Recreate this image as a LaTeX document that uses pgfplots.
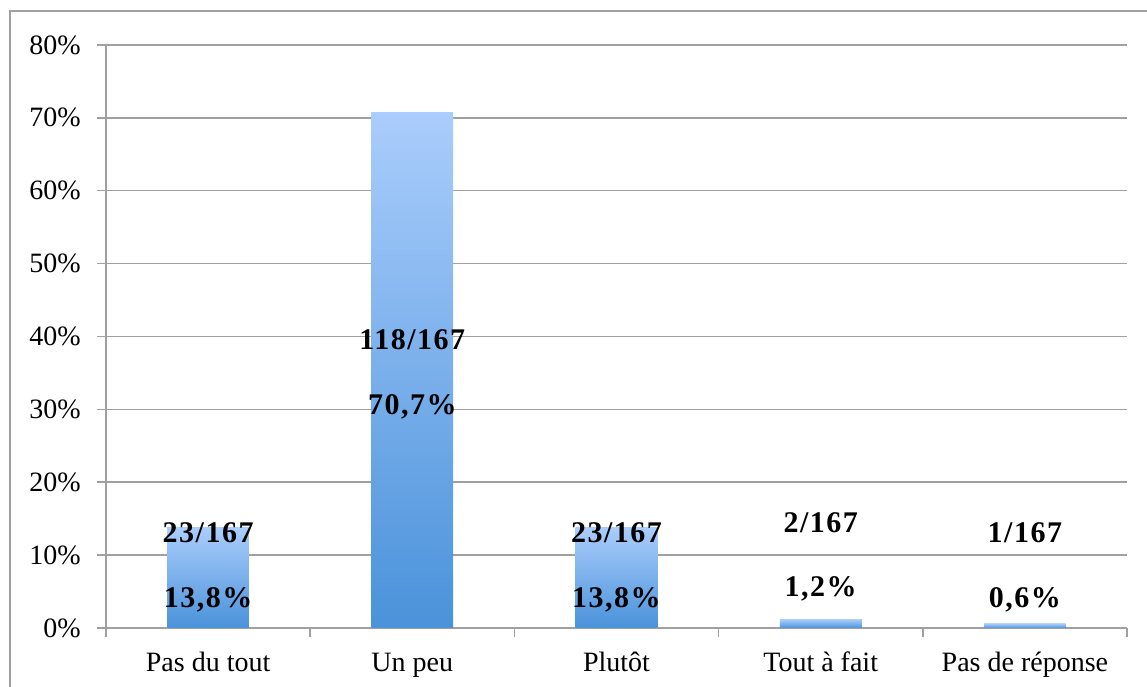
\documentclass[border=0pt]{standalone}
\usepackage{fontspec}
\setmainfont{Liberation Serif}
\usepackage{pgfplots}
\pgfplotsset{compat=1.18}
\definecolor{gridgray}{HTML}{A0A0A0}
\definecolor{barTop}{HTML}{AACDFC}
\definecolor{barBot}{HTML}{4A92DA}
\tikzset{lbl/.style={font=\bfseries\fontsize{30}{32}\selectfont\addfontfeatures{LetterSpace=5}, anchor=base, inner sep=0pt}}

\begin{document}
\begin{tikzpicture}
\useasboundingbox (0,0) rectangle (1147pt,687pt);
% outer chart frame
\draw[gridgray, line width=1.2pt] (10pt,-2pt) -- (10pt,676pt) -- (1149pt,676pt);
\begin{axis}[
  at={(106pt,59pt)}, anchor=south west,
  scale only axis, width=1021pt, height=583pt,
  xmin=-0.5, xmax=4.5, ymin=0, ymax=80,
  axis x line*=bottom, axis y line*=left,
  every non boxed x axis/.append style={x axis line style=-},
  every non boxed y axis/.append style={y axis line style=-},
  axis line style={gridgray, line width=1.5pt},
  tick align=outside, major tick length=9pt,
  tick style={gridgray, line width=1.5pt},
  ymajorgrids, grid style={gridgray, line width=1.5pt},
  ytick={0,10,...,80},
  yticklabel={\pgfmathprintnumber{\tick}\%},
  y tick label style={anchor=east, inner sep=0pt, xshift=-16pt},
  xtick={-0.5,0.5,1.5,2.5,3.5,4.5},
  xticklabels={Pas du tout, Un peu, Plutôt, Tout à fait, Pas de réponse, {}},
  x tick label style={anchor=base, inner sep=0pt, xshift=102.1pt, yshift=-34pt},
  tick label style={font=\fontsize{28}{30}\selectfont},
  /pgf/number format/assume math mode=true,
  ybar, bar width=0.4, bar shift=0pt,
  every axis plot/.append style={draw=none, top color=barTop, bottom color=barBot},
]
% one plot per bar so that each bar gets its own gradient
\addplot coordinates {(0,13.8)};
\addplot coordinates {(1,70.7)};
\addplot coordinates {(2,13.8)};
\addplot coordinates {(3,1.2)};
\addplot coordinates {(4,0.6)};

\node[lbl] at (axis cs:0,11.7) {23/167};
\node[lbl] at (axis cs:0,2.75) {13,8\%};
\node[lbl] at (axis cs:1,38.2) {118/167};
\node[lbl] at (axis cs:1,29.3) {70,7\%};
\node[lbl] at (axis cs:2,11.7) {23/167};
\node[lbl] at (axis cs:2,2.75) {13,8\%};
\node[lbl] at (axis cs:3,13.1) {2/167};
\node[lbl] at (axis cs:3,4.3) {1,2\%};
\node[lbl] at (axis cs:4,11.7) {1/167};
\node[lbl] at (axis cs:4,2.75) {0,6\%};
\end{axis}
\end{tikzpicture}
\end{document}
